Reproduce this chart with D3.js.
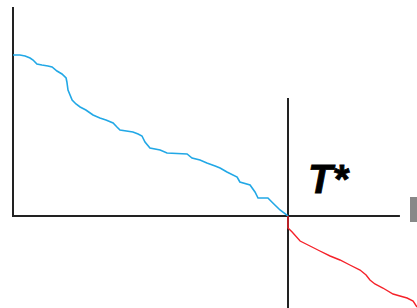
<!DOCTYPE html>
<html>
<head>
<meta charset="utf-8">
<script src="https://cdn.jsdelivr.net/npm/d3@7"></script>
<style>
  html, body { margin: 0; padding: 0; background: #fff; }
  svg { display: block; }
</style>
</head>
<body>
<div id="chart"></div>
<script>
// ---------- DATA ----------
// blue path: before T*
const beforeX = [0, 2.5, 4.4, 6.2, 7.3, 8.7, 10.5, 12.7, 14.2, 16, 17.8, 19.3, 19.6, 20, 21.5, 22.9, 24.4, 26.5, 29.1, 31.6,
  33.8, 36.4, 37.8, 38.9, 43.6, 45.5, 46.9, 48, 49.8, 53.5, 56, 63.3, 65.1, 68, 70.5, 73.5, 75.3, 77.8, 81.5, 82.5,
  86.2, 88, 89.1, 92.7, 94.5, 97.1, 99.6, 100];
const beforeY = [80.5, 80.5, 80, 79, 78, 76, 75.5, 75, 74.5, 72.5, 71, 69, 67, 63, 58, 56, 54.5, 53, 50.5, 49,
  48, 46.5, 44.5, 43, 42, 41, 40, 37, 34, 33, 31.5, 31, 29, 28, 26.5, 25, 24, 22, 19.5, 17,
  15.5, 12, 9, 9, 6.5, 3, 0.5, 0];

// red path: after T*
const afterX = [100, 100, 101.5, 104.4, 108, 111.6, 115.3, 118.9, 122.5, 126.2, 128.4, 129.8, 131.6, 134.5, 138.2, 140.7, 143.3, 145.5, 146.9];
const afterY = [0, -6, -8, -12.5, -15, -17.5, -20, -22, -24.5, -27, -29.5, -32, -34, -36, -39, -40, -41, -42.5, -45.5];

const T_STAR = 100;
const X_END = 140.7;   // end of horizontal axis
const Y_TOP = 104.5;   // top of left axis
const Y_BOTTOM = -46;
const T_LINE_TOP = 59;
const LABEL = "T*";

// ---------- DRAW ----------
const width = 417, height = 308;

const x = d3.scaleLinear().domain([0, 100]).range([13, 288]);
const y = d3.scaleLinear().domain([0, 100]).range([216, 16]);

const svg = d3.select("#chart").append("svg")
  .attr("width", width)
  .attr("height", height);

const line = d3.line()
  .x(d => x(d[0]))
  .y(d => y(d[1]));

// axes (plain lines, no ticks)
svg.append("line")
  .attr("x1", x(0)).attr("y1", y(Y_TOP))
  .attr("x2", x(0)).attr("y2", y(0) + 1)
  .attr("stroke", "#222").attr("stroke-width", 2);

svg.append("line")
  .attr("x1", x(0) - 1).attr("y1", y(0))
  .attr("x2", x(X_END)).attr("y2", y(0))
  .attr("stroke", "#222").attr("stroke-width", 2);

// T* marker line
svg.append("line")
  .attr("x1", x(T_STAR)).attr("y1", y(T_LINE_TOP))
  .attr("x2", x(T_STAR)).attr("y2", y(Y_BOTTOM))
  .attr("stroke", "#222").attr("stroke-width", 2);

// series
svg.append("path")
  .datum(beforeX.map((v, i) => [v, beforeY[i]]))
  .attr("fill", "none")
  .attr("stroke", "#22a8e6")
  .attr("stroke-width", 1.6)
  .attr("d", line);

svg.append("path")
  .datum(afterX.map((v, i) => [v, afterY[i]]))
  .attr("fill", "none")
  .attr("stroke", "#f5222a")
  .attr("stroke-width", 1.4)
  .attr("d", line);

// label
svg.append("text")
  .attr("x", x(T_STAR) + 20)
  .attr("y", y(0) - 23)
  .attr("font-family", "Liberation Sans, Arial, sans-serif")
  .attr("font-weight", "bold")
  .attr("font-style", "italic")
  .attr("font-size", 40)
  .attr("fill", "#000")
  .attr("stroke", "#000")
  .attr("stroke-width", 0.8)
  .text(LABEL);

// clipped grey block at right edge
svg.append("rect")
  .attr("x", 410).attr("y", 197)
  .attr("width", 8).attr("height", 25)
  .attr("fill", "#888");
</script>
</body>
</html>
